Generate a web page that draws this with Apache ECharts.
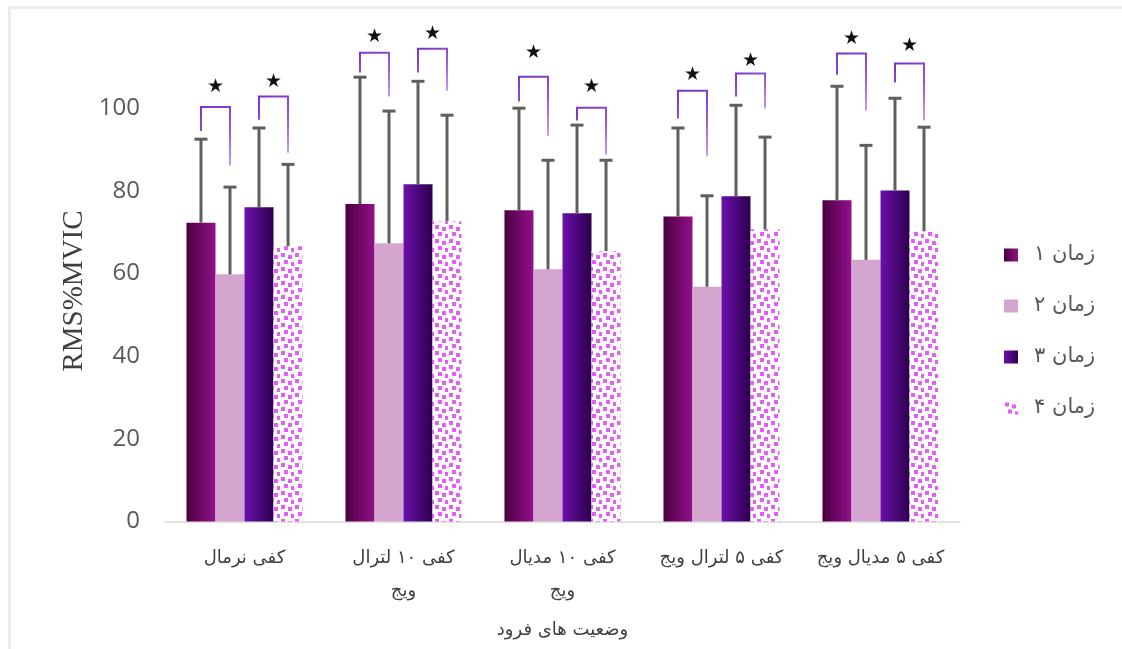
<!DOCTYPE html>
<html><head><meta charset="utf-8">
<script src="https://cdn.jsdelivr.net/npm/echarts@6/dist/echarts.min.js"></script>
<style>html,body{margin:0;padding:0;background:#fff}#c{width:1122px;height:649px}</style>
</head><body><div id="c"></div>
<script>
// ---- data ----
const categories = ['کفی نرمال', 'کفی ۱۰ لترال ویج', 'کفی ۱۰ مدیال ویج', 'کفی ۵ لترال ویج', 'کفی ۵ مدیال ویج'];
const seriesNames = ['زمان ۱', 'زمان ۲', 'زمان ۳', 'زمان ۴'];
const time1 = [72.3, 76.8, 75.3, 73.8, 77.7];
const time2 = [59.8, 67.3, 61.0, 56.8, 63.3];
const time3 = [76.0, 81.6, 74.6, 78.7, 80.1];
const time4 = [66.6, 72.6, 65.4, 70.7, 70.2];
const sd1 = [20.2, 30.7, 24.7, 21.4, 27.6];
const sd2 = [21.1, 32.0, 26.4, 22.0, 27.7];
const sd3 = [19.2, 24.9, 21.3, 22.0, 22.3];
const sd4 = [19.8, 25.7, 22.0, 22.3, 25.2];
const yTicks = [0, 20, 40, 60, 80, 100];
// significance brackets: [top, leftEnd, rightEnd, starLevel]
const bracketsT1T2 = [[100.3, 94.5, 86.1, 105.2], [113.4, 108.6, 102.8, 117.3], [107.6, 101.6, 93.3, 113.4], [104.2, 97.5, 88.3, 108.1], [113.2, 108.1, 99.4, 116.8]];
const bracketsT3T4 = [[102.8, 97.2, 89.2, 106.2], [114.4, 108.6, 104.2, 118.0], [100.1, 97.0, 88.7, 105.0], [108.4, 102.8, 99.9, 111.3], [110.8, 106.2, 97.0, 115.1]];
const xTitle = 'وضعیت های فرود';
const yTitle = 'RMS%MVIC';

// ---- styles ----
const CAT_GAP = 0.27;
const means = [time1, time2, time3, time4];
const sds = [sd1, sd2, sd3, sd4];

function makePattern() {
  const c = document.createElement('canvas');
  c.width = 14; c.height = 14;
  const g = c.getContext('2d');
  g.fillStyle = '#ffffff'; g.fillRect(0, 0, 14, 14);
  g.fillStyle = '#e35ef5';
  [[1, 1], [8, 3], [4, 8], [11, 10]].forEach(p => g.fillRect(p[0], p[1], 4, 4));
  return c;
}
const colors = [
  { type: 'linear', x: 0, y: 0, x2: 1, y2: 0, colorStops: [{ offset: 0, color: '#4a0040' }, { offset: 1, color: '#93108b' }] },
  '#d4a5cf',
  { type: 'linear', x: 0, y: 0, x2: 1, y2: 0, colorStops: [{ offset: 0, color: '#6c0fac' }, { offset: 1, color: '#2c004e' }] },
  { image: makePattern(), repeat: 'repeat' }
];

function barX(api, cat, idx) {
  const c = api.coord([cat, 0]);
  const band = api.size([1, 0])[0];
  const w = band * (1 - CAT_GAP) / 4;
  return c[0] + (idx - 1.5) * w;
}

const barSeries = seriesNames.map((n, i) => ({
  name: n, type: 'bar', data: means[i], barGap: '0%', barCategoryGap: (CAT_GAP * 100) + '%',
  itemStyle: { color: colors[i] }, z: 2
}));

const errSeries = seriesNames.map((n, i) => ({
  type: 'custom', name: 'err' + i, z: 3, silent: true,
  data: means[i].map((m, k) => [k, m, m + sds[i][k]]),
  encode: { x: 0, y: [1, 2] },
  renderItem: (params, api) => {
    const cat = api.value(0);
    const x = barX(api, cat, i);
    const y0 = api.coord([cat, api.value(1)])[1];
    const y1 = api.coord([cat, api.value(2)])[1];
    const st = { stroke: '#5f5f5f', lineWidth: 3 };
    return { type: 'group', children: [
      { type: 'line', shape: { x1: x, y1: y0, x2: x, y2: y1 }, style: st },
      { type: 'line', shape: { x1: x - 6.5, y1: y1, x2: x + 6.5, y2: y1 }, style: st }
    ] };
  }
}));

function bracketSeries(data, li, ri) {
  return {
    type: 'custom', z: 4, silent: true, clip: false,
    data: data.map((b, k) => [k, b[0], b[1], b[2], b[3]]),
    encode: { x: 0, y: [1] },
    renderItem: (params, api) => {
      const cat = api.value(0);
      const xl = barX(api, cat, li), xr = barX(api, cat, ri);
      const yt = api.coord([cat, api.value(1)])[1];
      const yl = api.coord([cat, api.value(2)])[1];
      const yr = api.coord([cat, api.value(3)])[1];
      const ys = api.coord([cat, api.value(4)])[1];
      return { type: 'group', children: [
        { type: 'polyline', shape: { points: [[xl, yl], [xl, yt], [xr, yt], [xr, yr]] },
          style: { fill: null, lineWidth: 2, stroke: { type: 'linear', x: 0, y: 0, x2: 1, y2: 1,
            colorStops: [{ offset: 0, color: '#7a2fc6' }, { offset: 0.5, color: '#9656d6' }, { offset: 1, color: '#cba4ee' }] } } },
        { type: 'text', x: (xl + xr) / 2, y: ys, style: { text: '★', fill: '#111', font: '19px "DejaVu Sans"', align: 'center', verticalAlign: 'middle' } }
      ] };
    }
  };
}

const chart = echarts.init(document.getElementById('c'), null, { renderer: 'canvas' });
chart.setOption({
  animation: false,
  backgroundColor: '#ffffff',
  grid: { left: 165, right: 162, top: 25.5, bottom: 127.5, containLabel: false },
  legend: {
    data: seriesNames, orient: 'vertical', left: 1004, top: 244, padding: 0, itemWidth: 14, itemHeight: 13, itemGap: 29,
    icon: 'rect', textStyle: { fontFamily: 'DejaVu Sans', fontSize: 21, color: '#595959', lineHeight: 22, padding: [0, 0, 0, 11] }
  },
  xAxis: {
    type: 'category', data: categories,
    axisLine: { lineStyle: { color: '#d9d9d9', width: 1.5 } }, axisTick: { show: false },
    axisLabel: { interval: 0, margin: 20, fontFamily: 'DejaVu Sans', fontSize: 18, color: '#404040', lineHeight: 33,
      formatter: v => v.includes('۱۰') ? v.replace(/ (\S+)$/, '\n$1') : v },
    name: xTitle, nameLocation: 'middle', nameGap: 100,
    nameTextStyle: { fontFamily: 'DejaVu Sans', fontSize: 18, color: '#404040' }
  },
  yAxis: {
    type: 'value', min: 0, max: 120, interval: 20,
    axisLine: { show: false }, axisTick: { show: false }, splitLine: { show: false },
    axisLabel: { margin: 25, fontFamily: 'Open Sans', fontSize: 24, color: '#595959',
      formatter: v => yTicks.indexOf(v) >= 0 ? String(v) : '' }
  },
  graphic: [
    { type: 'text', x: 74, y: 291, rotation: Math.PI / 2, style: { text: yTitle, font: '29px "Liberation Serif"', fill: '#404040', align: 'center', verticalAlign: 'middle' } },
    { type: 'rect', shape: { x: 8, y: 6, width: 1114, height: 3 }, style: { fill: '#ececec' }, silent: true },
    { type: 'rect', shape: { x: 8, y: 6, width: 3, height: 643 }, style: { fill: '#ececec' }, silent: true }
  ],
  series: [...barSeries, ...errSeries, bracketSeries(bracketsT1T2, 0, 1), bracketSeries(bracketsT3T4, 2, 3)]
});
</script></body></html>
